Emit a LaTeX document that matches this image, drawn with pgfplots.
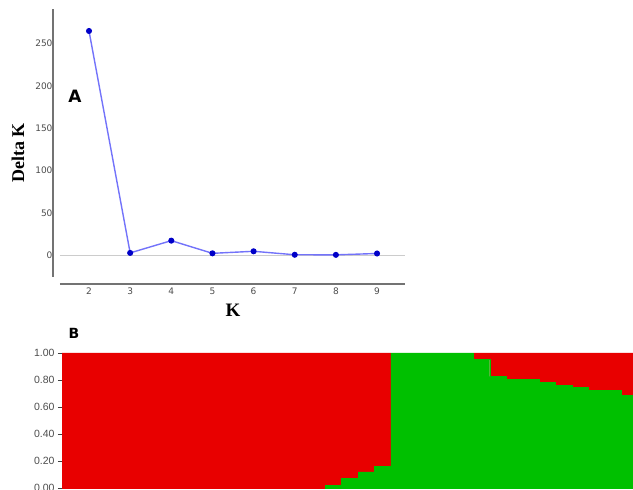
\documentclass[border=0pt]{standalone}
\usepackage{fontspec}
\setmainfont{Liberation Serif}
\newfontfamily\arialf{Liberation Sans}
\newfontfamily\dejavu{DejaVu Sans}
\usepackage{pgfplots}
\pgfplotsset{compat=1.18}
\definecolor{linec}{RGB}{115,115,250}
\definecolor{markc}{RGB}{0,0,200}
\definecolor{sred}{RGB}{232,0,0}
\definecolor{sgreen}{RGB}{0,192,0}
\begin{document}
\begin{tikzpicture}[x=1pt,y=1pt]
\useasboundingbox (0,0) rectangle (633,490);
% ---------------- Panel A ----------------
\begin{axis}[
  at={(60pt,213pt)}, anchor=south west,
  width=345pt, height=268pt, scale only axis,
  xmin=1.295, xmax=9.68, ymin=-26, ymax=291,
  axis line style={draw=none},
  xtick={2,3,4,5,6,7,8,9}, ytick={0,50,100,150,200,250},
  major tick length=0pt,
  tick label style={font=\dejavu\fontsize{9}{10}\selectfont, text=black!70},
  /pgf/number format/assume math mode=true,
  yticklabel style={xshift=-4pt},
  xticklabel style={yshift=-7pt},
  clip=false,
]
\draw[black!20, line width=0.7pt] (axis cs:1.295,0) -- (axis cs:9.68,0);
\draw[black!55, line width=1.3pt] ([xshift=-7pt]rel axis cs:0,0) -- ([xshift=-7pt]rel axis cs:0,1);
\draw[black!55, line width=1.3pt] ([yshift=-7pt]rel axis cs:0,0) -- ([yshift=-7pt]rel axis cs:1,0);
\addplot[linec, line width=1.4pt, mark=*, mark size=2.3pt, mark options={draw=markc, fill=markc}]
  coordinates {(2,265) (3,2.5) (4,17) (5,2) (6,4.4) (7,0.3) (8,0.2) (9,1.8)};
\end{axis}
\node[rotate=90, font=\bfseries\fontsize{18}{20}\selectfont] at (18,337) {Delta K};
\node[font=\bfseries\fontsize{19}{21}\selectfont] at (233,180) {K};
\node[font=\dejavu\bfseries\fontsize{17}{20}\selectfont] at (75,394) {A};
% ---------------- Panel B ----------------
\begin{axis}[
  at={(62pt,2pt)}, anchor=south west,
  width=575.75pt, height=135pt, scale only axis,
  xmin=0, xmax=35, ymin=0, ymax=1,
  ybar stacked, bar width=1,
  axis x line*=bottom, axis y line*=left,
  axis line style={black!75, line width=1pt},
  xtick=\empty, ytick={0,0.2,0.4,0.6,0.8,1},
  tick align=outside, major tick length=4pt,
  tick style={black!75, line width=0.8pt},
  yticklabel style={/pgf/number format/fixed, /pgf/number format/fixed zerofill, /pgf/number format/precision=2, font=\arialf\fontsize{10.5}{12}\selectfont, text=black!70},
  /pgf/number format/assume math mode=true,
  clip=false,
]
\addplot[fill=sgreen, draw=sgreen, line width=0.3pt] coordinates {
(0.5,0) (1.5,0) (2.5,0) (3.5,0) (4.5,0) (5.5,0) (6.5,0) (7.5,0) (8.5,0) (9.5,0)
(10.5,0) (11.5,0) (12.5,0) (13.5,0) (14.5,0) (15.5,0)
(16.5,0.02) (17.5,0.07) (18.5,0.12) (19.5,0.16)
(20.5,1) (21.5,1) (22.5,1) (23.5,1) (24.5,1)
(25.5,0.955) (26.5,0.827) (27.5,0.807) (28.5,0.807) (29.5,0.783)
(30.5,0.76) (31.5,0.745) (32.5,0.723) (33.5,0.723) (34.5,0.686)};
\addplot[fill=sred, draw=sred, line width=0.3pt] coordinates {
(0.5,1) (1.5,1) (2.5,1) (3.5,1) (4.5,1) (5.5,1) (6.5,1) (7.5,1) (8.5,1) (9.5,1)
(10.5,1) (11.5,1) (12.5,1) (13.5,1) (14.5,1) (15.5,1)
(16.5,0.98) (17.5,0.93) (18.5,0.88) (19.5,0.84)
(20.5,0) (21.5,0) (22.5,0) (23.5,0) (24.5,0)
(25.5,0.045) (26.5,0.173) (27.5,0.193) (28.5,0.193) (29.5,0.217)
(30.5,0.24) (31.5,0.255) (32.5,0.277) (33.5,0.277) (34.5,0.314)};
\end{axis}
\node[font=\dejavu\bfseries\fontsize{14}{17}\selectfont] at (74,157) {B};
\end{tikzpicture}
\end{document}
